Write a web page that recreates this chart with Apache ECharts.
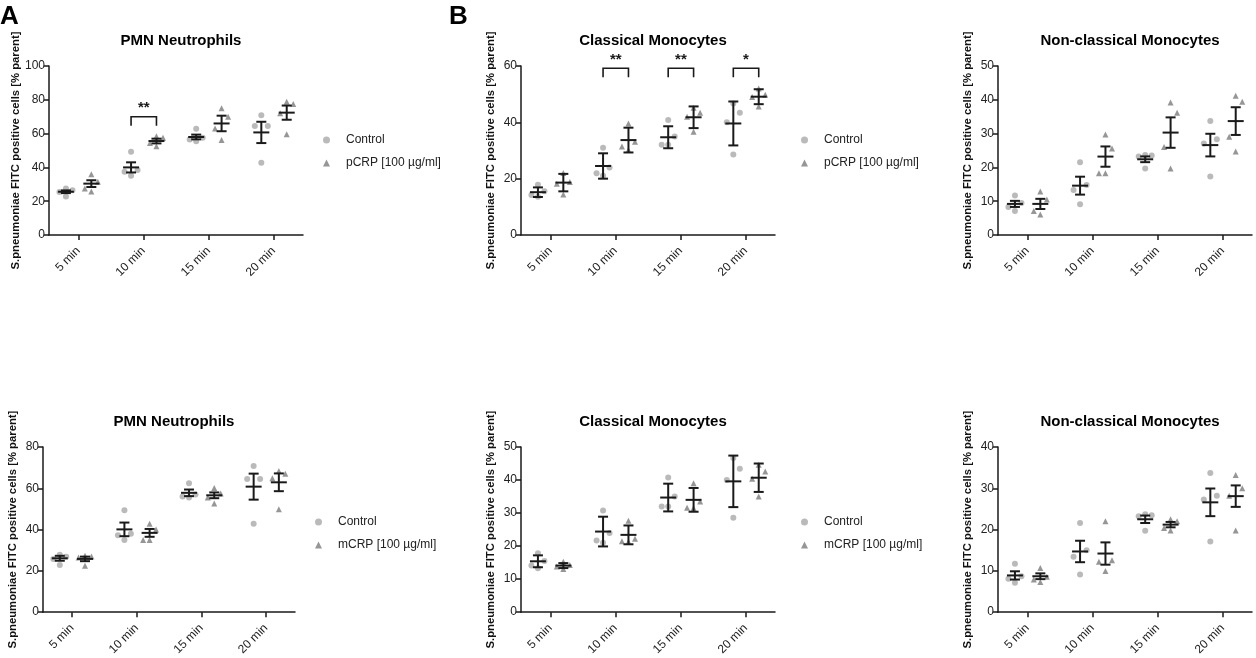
<!DOCTYPE html>
<html>
<head>
    <meta charset="utf-8">
    <title>S.pneumoniae phagocytosis</title>
    <style>
        html, body { margin: 0; padding: 0; background: #fff; }
        #chart { width: 1256px; height: 658px; }
    </style>
</head>
<body>
<div id="chart"></div>
<script src="https://cdn.jsdelivr.net/npm/echarts@6/dist/echarts.min.js"></script>
<script>
    var categories = ['5 min', '10 min', '15 min', '20 min'];
    var panelTitles = ['PMN Neutrophils', 'Classical Monocytes', 'Non-classical Monocytes',
                       'PMN Neutrophils', 'Classical Monocytes', 'Non-classical Monocytes'];
    var yName = 'S.pneumoniae FITC positive cells [% parent]';
    var ctrlName = 'Control';
    var pcrpName = 'pCRP [100 µg/ml]';
    var mcrpName = 'mCRP [100 µg/ml]';
    var yMax = [100, 60, 50, 80, 50, 40];
    var yStep = [20, 20, 10, 20, 10, 10];

    // A: PMN neutrophils, pCRP
    var pmnPcrpCtrl = [[22.8, 25.5, 26.5, 27.5], [35, 37.5, 38.5, 49.3], [55.5, 56.5, 57.5, 62.8], [42.8, 64.5, 64.5, 70.8]];
    var pmnPcrpCtrlMean = [25.6, 40.0, 58.0, 60.7];
    var pmnPcrpCtrlSem = [0.8, 3.0, 1.4, 6.3];
    var pmnPcrpTrt = [[25.8, 27.5, 31.5, 36], [52.5, 54.5, 57.5, 58.5], [56.2, 63, 70, 75], [59.6, 72, 77.5, 78.9]];
    var pmnPcrpTrtMean = [30.4, 55.6, 66.0, 72.4];
    var pmnPcrpTrtSem = [2.0, 1.4, 4.6, 4.2];

    // B: classical monocytes, pCRP
    var clsPcrpCtrl = [[13.6, 14.2, 15.5, 17.8], [21, 21.9, 24, 31], [32, 32, 35, 40.8], [28.6, 40, 43.4, 46.7]];
    var clsPcrpCtrlMean = [15.2, 24.5, 34.7, 39.6];
    var clsPcrpCtrlSem = [1.7, 4.5, 3.9, 7.8];
    var clsPcrpTrt = [[14.4, 18.2, 18.8, 22], [30.2, 31.4, 33.1, 39.6], [36.7, 42, 43.4, 45.2], [45.6, 49, 49.8, 52]];
    var clsPcrpTrtMean = [18.6, 33.7, 41.8, 49.1];
    var clsPcrpTrtSem = [3.1, 4.4, 3.85, 2.65];

    // B: non-classical monocytes, pCRP
    var ncmPcrpCtrl = [[7.1, 8.3, 9.5, 11.7], [9.1, 13.3, 14.8, 21.5], [19.7, 23.2, 23.5, 23.7], [17.3, 27.1, 28.3, 33.7]];
    var ncmPcrpCtrlMean = [9.2, 14.6, 22.4, 26.6];
    var ncmPcrpCtrlSem = [0.9, 2.65, 0.85, 3.35];
    var ncmPcrpTrt = [[6.1, 7.1, 10.5, 12.9], [18.3, 18.3, 25.6, 29.7], [19.7, 26, 36.2, 39.2], [24.7, 29.1, 39.4, 41.2]];
    var ncmPcrpTrtMean = [9.2, 23.2, 30.3, 33.7];
    var ncmPcrpTrtSem = [1.5, 3.0, 4.5, 4.1];

    // A: PMN neutrophils, mCRP
    var pmnMcrpCtrl = [[22.9, 25.8, 26.8, 27.8], [34.9, 37.3, 38, 49.4], [55.5, 56, 57, 62.4], [42.8, 64.5, 64.5, 70.8]];
    var pmnMcrpCtrlMean = [26.1, 40.1, 57.8, 60.8];
    var pmnMcrpCtrlSem = [1.2, 3.3, 1.6, 6.3];
    var pmnMcrpTrt = [[22.5, 26.5, 27, 27.3], [34.9, 35, 40, 42.8], [52.6, 55.5, 57.5, 60.2], [49.9, 64.9, 67.1, 68.4]];
    var pmnMcrpTrtMean = [25.8, 38.4, 56.6, 62.9];
    var pmnMcrpTrtSem = [1.1, 1.9, 1.4, 4.3];

    // B: classical monocytes, mCRP
    var clsMcrpCtrl = [[13.3, 14.1, 15.5, 17.8], [21, 21.7, 24, 30.8], [32, 32, 35, 40.8], [28.6, 40, 43.4, 46.7]];
    var clsMcrpCtrlMean = [15.4, 24.4, 34.7, 39.6];
    var clsMcrpCtrlSem = [1.8, 4.5, 4.2, 7.8];
    var clsMcrpTrt = [[13.1, 13.8, 14.3, 15.3], [21.3, 21.5, 22.2, 27.7], [31.5, 31.6, 33.5, 39], [35, 40.4, 42.6, 44.6]];
    var clsMcrpTrtMean = [14.1, 23.4, 34.0, 40.7];
    var clsMcrpTrtSem = [0.75, 2.85, 3.6, 4.3];

    // B: non-classical monocytes, mCRP
    var ncmMcrpCtrl = [[7.1, 8.1, 8.7, 11.7], [9.1, 13.4, 15, 21.6], [19.7, 23.2, 23.5, 23.7], [17.1, 27.3, 28.2, 33.7]];
    var ncmMcrpCtrlMean = [8.9, 14.7, 22.5, 26.6];
    var ncmMcrpCtrlSem = [1.0, 2.6, 0.9, 3.35];
    var ncmMcrpTrt = [[7.3, 7.9, 8.6, 10.7], [10, 12.2, 12.6, 22], [19.8, 20.4, 22, 22.5], [19.8, 28.2, 30, 33.2]];
    var ncmMcrpTrtMean = [8.7, 14.2, 21.2, 28.1];
    var ncmMcrpTrtSem = [0.7, 2.7, 0.65, 2.6];

    // significance brackets (category index, bracket level, label)
    var pmnPcrpSigCat = [1];
    var pmnPcrpSigY = [70];
    var pmnPcrpSigLabel = ['**'];
    var clsPcrpSigCat = [1, 2, 3];
    var clsPcrpSigY = [59.2, 59.2, 59.2];
    var clsPcrpSigLabel = ['**', '**', '*'];

    var panels = [
        { ctrl: pmnPcrpCtrl, ctrlMean: pmnPcrpCtrlMean, ctrlSem: pmnPcrpCtrlSem, trt: pmnPcrpTrt, trtMean: pmnPcrpTrtMean, trtSem: pmnPcrpTrtSem, trtName: pcrpName, sigCat: pmnPcrpSigCat, sigY: pmnPcrpSigY, sigLabel: pmnPcrpSigLabel },
        { ctrl: clsPcrpCtrl, ctrlMean: clsPcrpCtrlMean, ctrlSem: clsPcrpCtrlSem, trt: clsPcrpTrt, trtMean: clsPcrpTrtMean, trtSem: clsPcrpTrtSem, trtName: pcrpName, sigCat: clsPcrpSigCat, sigY: clsPcrpSigY, sigLabel: clsPcrpSigLabel },
        { ctrl: ncmPcrpCtrl, ctrlMean: ncmPcrpCtrlMean, ctrlSem: ncmPcrpCtrlSem, trt: ncmPcrpTrt, trtMean: ncmPcrpTrtMean, trtSem: ncmPcrpTrtSem, trtName: pcrpName },
        { ctrl: pmnMcrpCtrl, ctrlMean: pmnMcrpCtrlMean, ctrlSem: pmnMcrpCtrlSem, trt: pmnMcrpTrt, trtMean: pmnMcrpTrtMean, trtSem: pmnMcrpTrtSem, trtName: mcrpName },
        { ctrl: clsMcrpCtrl, ctrlMean: clsMcrpCtrlMean, ctrlSem: clsMcrpCtrlSem, trt: clsMcrpTrt, trtMean: clsMcrpTrtMean, trtSem: clsMcrpTrtSem, trtName: mcrpName },
        { ctrl: ncmMcrpCtrl, ctrlMean: ncmMcrpCtrlMean, ctrlSem: ncmMcrpCtrlSem, trt: ncmMcrpTrt, trtMean: ncmMcrpTrtMean, trtSem: ncmMcrpTrtSem, trtName: mcrpName }
    ];

    // layout
    var gridLeft = [49, 521, 998, 43, 521, 998];
    var gridTop = [66, 66, 66, 447, 447, 447];
    var gridWidth = [254, 254, 254, 252, 254, 254];
    var gridHeight = 169;
    var nameGap = [28, 25, 25, 25, 25, 25];
    var ctrlOffset = -0.19;
    var trtOffset = 0.2;
    var jitter = [0, -0.1, 0.1, 0];
    var font = '"Liberation Sans", Arial, Helvetica, sans-serif';
    var ink = '#1a1a1a';

    function scatterData(groups, offset) {
        var out = [];
        for (var i = 0; i < groups.length; i++) {
            var vals = groups[i].slice().sort(function (a, b) { return a - b; });
            for (var j = 0; j < vals.length; j++) {
                out.push([i + 1 + offset + jitter[j % jitter.length], vals[j]]);
            }
        }
        return out;
    }

    function barData(means, sems, offset) {
        var out = [];
        for (var i = 0; i < means.length; i++) {
            out.push([i + 1 + offset, means[i], sems[i]]);
        }
        return out;
    }

    function renderErrorBar(params, api) {
        var x = api.value(0), m = api.value(1), s = api.value(2);
        var c = api.coord([x, m]);
        var hi = api.coord([x, m + s]);
        var lo = api.coord([x, m - s]);
        var st = { stroke: ink, lineWidth: 2 };
        return {
            type: 'group',
            children: [
                { type: 'line', shape: { x1: c[0] - 8, y1: c[1], x2: c[0] + 8, y2: c[1] }, style: st },
                { type: 'line', shape: { x1: c[0], y1: hi[1], x2: c[0], y2: lo[1] }, style: st },
                { type: 'line', shape: { x1: c[0] - 5, y1: hi[1], x2: c[0] + 5, y2: hi[1] }, style: st },
                { type: 'line', shape: { x1: c[0] - 5, y1: lo[1], x2: c[0] + 5, y2: lo[1] }, style: st }
            ]
        };
    }

    function makeBracketRenderer(labels) {
        return function (params, api) {
            var cat = api.value(0), y = api.value(1);
            var a = api.coord([cat + ctrlOffset, y]);
            var b = api.coord([cat + trtOffset, y]);
            return {
                type: 'group',
                children: [
                    { type: 'polyline', shape: { points: [[a[0], a[1] + 9], [a[0], a[1]], [b[0], b[1]], [b[0], b[1] + 9]] },
                      style: { stroke: ink, lineWidth: 1.6, fill: null } },
                    { type: 'text', style: { text: labels[params.dataIndex], x: (a[0] + b[0]) / 2, y: a[1] - 1,
                      align: 'center', verticalAlign: 'bottom', font: 'bold 15px ' + font, fill: ink } }
                ]
            };
        };
    }

    var grids = [], xAxes = [], yAxes = [], series = [];
    var titles = [
        { text: 'A', left: 0, top: 4, padding: 0, textStyle: { fontFamily: font, fontSize: 26, fontWeight: 'bold', color: '#000' } },
        { text: 'B', left: 449, top: 4, padding: 0, textStyle: { fontFamily: font, fontSize: 26, fontWeight: 'bold', color: '#000' } }
    ];

    for (var p = 0; p < panels.length; p++) {
        var pd = panels[p];
        grids.push({ left: gridLeft[p], top: gridTop[p], width: gridWidth[p], height: gridHeight, containLabel: false });
        titles.push({
            text: panelTitles[p],
            left: gridLeft[p] + gridWidth[p] / 2,
            top: gridTop[p] - 38,
            textAlign: 'center',
            textStyle: { fontFamily: font, fontSize: 15, fontWeight: 'bold', color: '#000' }
        });
        xAxes.push({
            type: 'value', gridIndex: p, min: 0.55, max: 4.45,
            axisLine: { show: true, onZero: false, lineStyle: { color: ink, width: 1.5 } },
            axisTick: { show: true, customValues: [1, 2, 3, 4], length: 5, lineStyle: { color: ink, width: 1.5 } },
            axisLabel: {
                customValues: [1, 2, 3, 4], rotate: 45, margin: 14, fontFamily: font, fontSize: 12, color: '#222',
                formatter: function (v) { return categories[Math.round(v) - 1]; }
            },
            splitLine: { show: false }
        });
        yAxes.push({
            type: 'value', gridIndex: p, min: 0, max: yMax[p], interval: yStep[p],
            name: yName, nameLocation: 'middle', nameRotate: 90, nameGap: nameGap[p],
            nameTextStyle: { fontFamily: font, fontSize: 11.3, fontWeight: 'bold', color: '#111' },
            axisLine: { show: true, onZero: false, lineStyle: { color: ink, width: 1.5 } },
            axisTick: { show: true, length: 5, lineStyle: { color: ink, width: 1.5 } },
            axisLabel: { fontFamily: font, fontSize: 12, color: '#222', margin: 4 },
            splitLine: { show: false }
        });
        series.push({
            name: ctrlName, type: 'scatter', xAxisIndex: p, yAxisIndex: p,
            symbol: 'circle', symbolSize: 6, itemStyle: { color: '#a9a9a9' },
            data: scatterData(pd.ctrl, ctrlOffset), z: 2, silent: true
        });
        series.push({
            name: pd.trtName, type: 'scatter', xAxisIndex: p, yAxisIndex: p,
            symbol: 'triangle', symbolSize: 6, itemStyle: { color: '#7c7c7c' },
            data: scatterData(pd.trt, trtOffset), z: 2, silent: true
        });
        series.push({
            type: 'custom', xAxisIndex: p, yAxisIndex: p, renderItem: renderErrorBar,
            data: barData(pd.ctrlMean, pd.ctrlSem, ctrlOffset), z: 3, silent: true
        });
        series.push({
            type: 'custom', xAxisIndex: p, yAxisIndex: p, renderItem: renderErrorBar,
            data: barData(pd.trtMean, pd.trtSem, trtOffset), z: 3, silent: true
        });
        if (pd.sigCat) {
            var sig = [];
            for (var k = 0; k < pd.sigCat.length; k++) sig.push([pd.sigCat[k] + 1, pd.sigY[k]]);
            series.push({
                type: 'custom', xAxisIndex: p, yAxisIndex: p, renderItem: makeBracketRenderer(pd.sigLabel),
                data: sig, z: 4, silent: true, clip: false
            });
        }
    }

    function legendAt(left, top, trtName) {
        return {
            orient: 'vertical', left: left, top: top, padding: 0, itemWidth: 7, itemHeight: 7, itemGap: 11,
            selectedMode: false,
            textStyle: { fontFamily: font, fontSize: 12, color: '#222', padding: [0, 0, 0, 11] },
            data: [{ name: ctrlName, icon: 'circle' }, { name: trtName, icon: 'triangle' }]
        };
    }

    var option = {
        animation: false,
        backgroundColor: '#fff',
        title: titles,
        legend: [
            legendAt(323, 134, pcrpName),
            legendAt(801, 134, pcrpName),
            legendAt(315, 516, mcrpName),
            legendAt(801, 516, mcrpName)
        ],
        grid: grids,
        xAxis: xAxes,
        yAxis: yAxes,
        series: series
    };

    var chart = echarts.init(document.getElementById('chart'));
    chart.setOption(option);
</script>
</body>
</html>
